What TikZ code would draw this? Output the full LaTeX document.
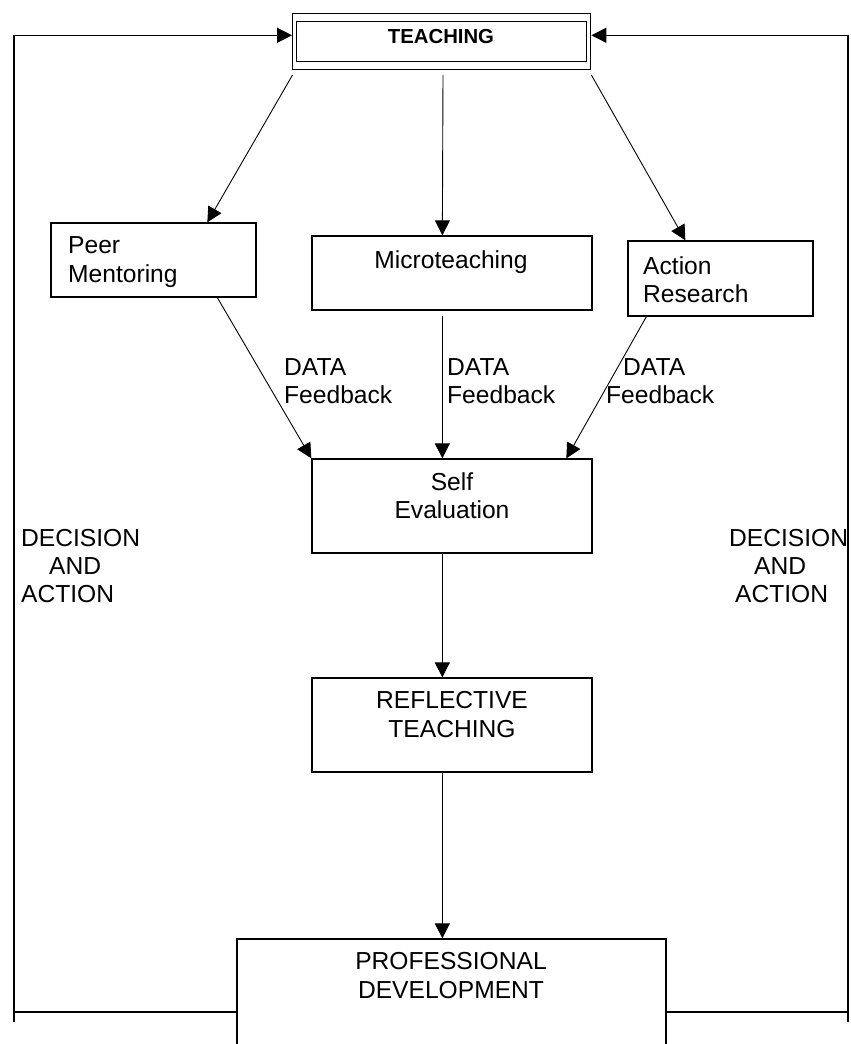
\documentclass[tikz,border=0pt]{standalone}
\usepackage{fontspec}
\setmainfont{Liberation Sans}
\usetikzlibrary{arrows.meta,calc}
\begin{document}
\begin{tikzpicture}[x=1pt,y=-1pt,
  box/.style={draw, line width=1.3pt, rectangle, inner sep=0pt},
  txt/.style={inner sep=0pt, font=\fontsize{24.6}{28.2}\selectfont},
  conn/.style={line width=0.9pt, -{Triangle[length=15pt,width=15pt]}},
  loopline/.style={line width=1.3pt},
  looparrow/.style={line width=1.3pt, -{Triangle[length=15pt,width=15pt]}}]
\useasboundingbox (0,0) rectangle (851,1044);
\clip (0,0) rectangle (851,1044);
\fill[white] (0,0) rectangle (851,1044);
% boxes
\node[box, minimum width=298pt, minimum height=56pt] (teach) at (441.7,41.3) {};
\draw[line width=0.9pt] ($(teach.north west)+(4,8.7)$) rectangle ($(teach.south east)+(-5,-8.6)$);
\node[inner sep=0pt, font=\bfseries\fontsize{20.3}{24}\selectfont] (teachtxt) at (441,36.5) {TEACHING};
\node[box, minimum width=205pt, minimum height=74pt] (peer) at (153.5,260) {};
\node[box, minimum width=280pt, minimum height=74pt] (micro) at (452,273) {};
\node[box, minimum width=185pt, minimum height=75pt] (action) at (720.5,278.5) {};
\node[box, minimum width=280pt, minimum height=94pt] (self) at (452,506) {};
\node[box, minimum width=280pt, minimum height=94pt] (refl) at (452,725) {};
\node[box, minimum width=429pt, minimum height=150pt] (prof) at (451.5,1014) {};
% texts
\node[txt, anchor=west, align=left] (peertxt) at (68,262) {Peer\\Mentoring};
\node[txt] (microtxt) at (451,262) {Microteaching};
\node[txt, anchor=west, align=left] (actiontxt) at (643,280) {Action\\Research};
\node[txt, anchor=west, align=left] (data1) at (284,381) {DATA\\Feedback};
\node[txt, anchor=west, align=left] (data2) at (447,381) {DATA\\Feedback};
\node[txt, anchor=west, align=left] (data3) at (606,381) {\hspace*{17pt}DATA\\Feedback};
\node[txt, align=center] (selftxt) at (452,496) {Self\\Evaluation};
\node[txt, align=center] (refltxt) at (452,714.5) {REFLECTIVE\\TEACHING};
\node[txt, align=center] (proftxt) at (451,975.5) {PROFESSIONAL\\DEVELOPMENT};
\node[txt, anchor=west, align=left] (decl) at (21,566) {DECISION\\\hspace*{28pt}AND\\ACTION};
\node[txt, anchor=west, align=left] (decr) at (729,566) {DECISION\\\hspace*{25pt}AND\\\hspace*{6pt}ACTION};
% connectors from TEACHING
\draw[conn] ($(teach.south west)+(0.5,5)$) -- ($(peer.north west)+(157,0)$);
\draw[conn] ($(teach.south)+(1.3,5)$) -- ($(micro.north west)+(131,0)$);
\draw[conn] ($(teach.south east)+(0,5)$) -- ($(action.north west)+(58,0)$);
% into self evaluation
\draw[conn] ($(peer.south west)+(167,0)$) -- (self.north west);
\draw[conn] ($(micro.south west)+(131,5)$) -- ($(self.north west)+(131,0)$);
\draw[conn] ($(action.south west)+(19,0)$) -- ($(self.north west)+(255,0)$);
\draw[conn] ($(self.south west)+(131,0)$) -- ($(refl.north west)+(131,0)$);
\draw[conn] ($(refl.south west)+(131,0)$) -- ($(prof.north west)+(206,0)$);
% feedback loops
\coordinate (lbot) at (14,1022);
\coordinate (ltop) at (14,35.3);
\coordinate (lmid) at (14,1012);
\coordinate (rbot) at (848,1022);
\coordinate (rtop) at (848,35.3);
\coordinate (rmid) at (848,1012);
\draw[looparrow] (lbot) -- (ltop) -- (ltop -| teach.west);
\draw[looparrow] (rbot) -- (rtop) -- (rtop -| teach.east);
\draw[loopline] (lmid) -- (lmid -| prof.west);
\draw[loopline] (rmid) -- (rmid -| prof.east);
\end{tikzpicture}
\end{document}
